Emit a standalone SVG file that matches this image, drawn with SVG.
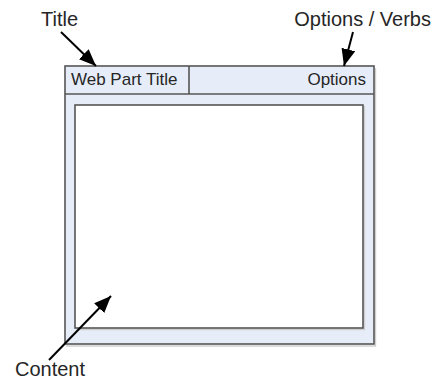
<svg xmlns="http://www.w3.org/2000/svg" width="439" height="379" viewBox="0 0 439 379">
  <style>
    .lbl { font-family: "Liberation Sans", Arial, sans-serif; fill: #262626; }
    .big { font-size: 20px; }
    .small { font-size: 17px; }
    .frame { fill: #e7edf8; stroke: #555; stroke-width: 1.6; }
    .pane { fill: #ffffff; stroke: #555; stroke-width: 1.6; }
    .shadow { fill: none; stroke: #cfcfcf; stroke-width: 1.4; }
    .conn { stroke: #000; stroke-width: 2; fill: none; marker-end: url(#head); }
  </style>
  <defs>
    <marker id="head" viewBox="0 0 17 14" refX="17" refY="7" markerWidth="8.5" markerHeight="7" markerUnits="strokeWidth" orient="auto">
      <path d="M0,0 L17,7 L0,14 Z" fill="#000"/>
    </marker>
  </defs>
  <rect width="439" height="379" fill="#fff"/>

  <g id="webpart">
    <!-- soft drop shadow along bottom and right edges -->
    <path class="shadow" d="M66,346 H375.5 V68"/>
    <rect class="frame" x="65" y="66" width="309" height="278"/>
    <line x1="65" y1="94" x2="374" y2="94" stroke="#555" stroke-width="1.6"/>
  </g>

  <g id="title-cell">
    <line x1="189" y1="66" x2="189" y2="94" stroke="#555" stroke-width="1.6"/>
    <text class="lbl small" x="71" y="85">Web Part Title</text>
  </g>

  <g id="options-cell">
    <text class="lbl small" x="366" y="85" text-anchor="end">Options</text>
  </g>

  <g id="content">
    <path class="shadow" d="M76.5,329.5 H364.5 V106"/>
    <rect class="pane" x="75" y="105" width="288" height="223"/>
  </g>

  <g id="labels">
    <text class="lbl big" x="41" y="26">Title</text>
    <text class="lbl big" x="431" y="26" text-anchor="end">Options / Verbs</text>
    <text class="lbl big" x="15" y="376">Content</text>
  </g>

  <g id="connectors">
    <line class="conn" x1="61" y1="32" x2="96" y2="66"/>
    <line class="conn" x1="353" y1="32" x2="344" y2="66"/>
    <line class="conn" x1="49" y1="360" x2="111" y2="296"/>
  </g>
</svg>
